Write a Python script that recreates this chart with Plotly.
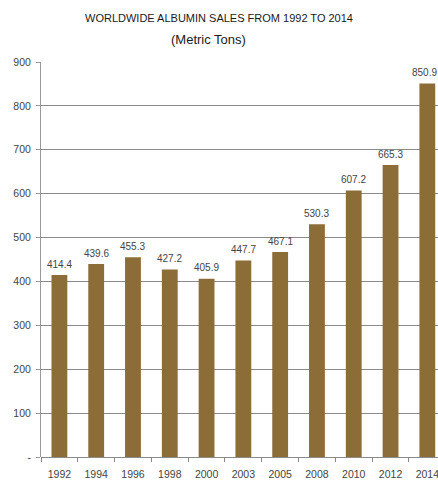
import plotly.graph_objects as go

years = ["1992", "1994", "1996", "1998", "2000", "2003", "2005", "2008", "2010", "2012", "2014"]
sales = [414.4, 439.6, 455.3, 427.2, 405.9, 447.7, 467.1, 530.3, 607.2, 665.3, 850.9]
ytick_vals = [0, 100, 200, 300, 400, 500, 600, 700, 800, 900]
ytick_text = ["-", "100", "200", "300", "400", "500", "600", "700", "800", "900"]

FONT = "Liberation Sans, Arial, sans-serif"
W, H = 438, 483
L, T, B = 41, 62, 26
PW = W - L
PH = H - T - B

fig = go.Figure()
fig.add_trace(go.Bar(
    x=years, y=sales,
    marker=dict(color="#8C6C37", line=dict(width=0)),
    hoverinfo="x+y",
))

annots = [
    dict(text="WORLDWIDE ALBUMIN SALES FROM 1992 TO 2014",
         xref="paper", yref="paper", x=(219 - L) / PW, y=1 + (T - 18) / PH,
         xanchor="center", yanchor="middle", showarrow=False,
         font=dict(family=FONT, size=11, color="#1a1a1a")),
    dict(text="(Metric Tons)",
         xref="paper", yref="paper", x=(208 - L) / PW, y=1 + (T - 40) / PH,
         xanchor="center", yanchor="middle", showarrow=False,
         font=dict(family=FONT, size=13, color="#1a1a1a")),
]
for i, v in enumerate(sales):
    last = i == len(sales) - 1
    annots.append(dict(
        text=f"{v:.1f}", x=i, y=v, xref="x", yref="y",
        xanchor="center", yanchor="middle", yshift=11,
        xshift=-3 if last else 0,
        showarrow=False,
        font=dict(family=FONT, size=10, color="#444444"),
    ))

fig.update_layout(
    width=W, height=H,
    margin=dict(l=L, r=0, t=T, b=B),
    paper_bgcolor="white", plot_bgcolor="white",
    bargap=0.57,
    showlegend=False,
    annotations=annots,
)
fig.update_xaxes(
    type="category", range=[-0.5, 10.29],
    showline=False, showgrid=False,
    ticks="outside", tickson="boundaries", ticklen=4, tickcolor="#888888",
    ticklabelstandoff=9,
    tickfont=dict(family=FONT, size=10.5, color="#444444"),
)
fig.update_yaxes(
    range=[0, 900], tickvals=ytick_vals, ticktext=ytick_text,
    showline=True, linecolor="#999999", linewidth=1,
    showgrid=True, gridcolor="#8a8a8a", gridwidth=1,
    ticks="outside", ticklen=4, tickcolor="#999999",
    ticklabelstandoff=3,
    tickfont=dict(family=FONT, size=10.5, color="#444444"),
    zeroline=True, zerolinecolor="#8a8a8a", zerolinewidth=1,
)

fig.write_html("out.html")
